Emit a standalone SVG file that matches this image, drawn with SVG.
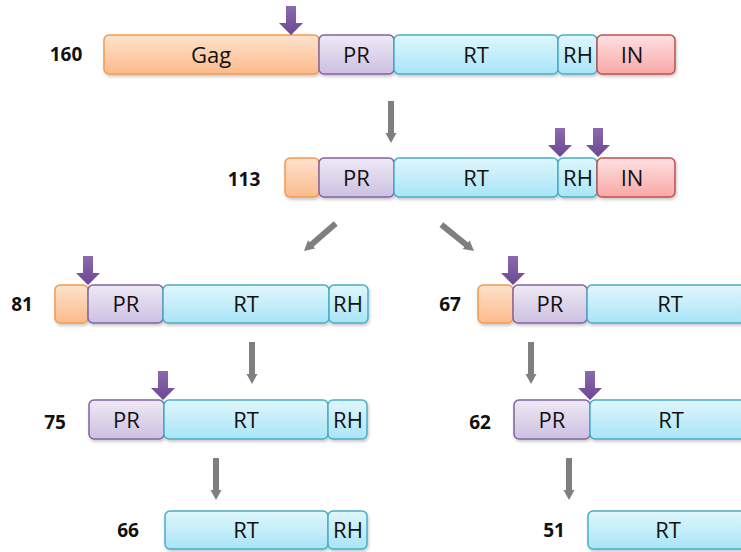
<svg xmlns="http://www.w3.org/2000/svg" xmlns:xlink="http://www.w3.org/1999/xlink" width="741" height="552" viewBox="0 0 741 552">
<defs>
<linearGradient id="gOr" x1="0" y1="0" x2="0" y2="1"><stop offset="0" stop-color="#fde2cd"/><stop offset="1" stop-color="#fbbb8c"/></linearGradient>
<linearGradient id="gPu" x1="0" y1="0" x2="0" y2="1"><stop offset="0" stop-color="#eee9f6"/><stop offset="1" stop-color="#cdc0e1"/></linearGradient>
<linearGradient id="gBl" x1="0" y1="0" x2="0" y2="1"><stop offset="0" stop-color="#e0f6fc"/><stop offset="1" stop-color="#a8e5f7"/></linearGradient>
<linearGradient id="gRe" x1="0" y1="0" x2="0" y2="1"><stop offset="0" stop-color="#fee1e1"/><stop offset="1" stop-color="#f9a7a7"/></linearGradient>
<linearGradient id="gArr" x1="0" y1="0" x2="0" y2="1"><stop offset="0" stop-color="#8c6aaf"/><stop offset="1" stop-color="#6a4792"/></linearGradient>
<filter id="sh" x="-10%" y="-20%" width="120%" height="150%"><feDropShadow dx="1" dy="2" stdDeviation="1.5" flood-color="#000" flood-opacity="0.22"/></filter>
<path id="cut" d="M-5,-29 H5 V-12 H12 L0,0 L-12,-12 H-5 Z" fill="url(#gArr)"/>
<path id="step" d="M-3,-42 H3 V-10 H5.5 L0,0 L-5.5,-10 H-3 Z" fill="#7f7f7f"/>
<style>
.b{stroke-width:1.5}
.gag{fill:url(#gOr);stroke:#f49a4f}
.pr{fill:url(#gPu);stroke:#8064a2}
.rt{fill:url(#gBl);stroke:#4bacc6}
.in{fill:url(#gRe);stroke:#c0504d}
.t{font-family:"Open Sans","Liberation Sans",sans-serif;font-size:22px;fill:#111;text-anchor:middle}
.l{font-family:"Open Sans","Liberation Sans",sans-serif;font-size:19px;font-weight:bold;fill:#111;text-anchor:middle}
</style>
</defs>
<rect width="741" height="552" fill="#fff"/>

<g id="p160">
<g filter="url(#sh)">
<rect class="b gag" x="104" y="35" width="215" height="39" rx="5"/>
<rect class="b pr" x="319" y="35" width="75" height="39" rx="5"/>
<rect class="b rt" x="394" y="35" width="164" height="39" rx="5"/>
<rect class="b rt" x="558" y="35" width="39" height="39" rx="5"/>
<rect class="b in" x="597" y="35" width="78" height="39" rx="5"/>
</g>
<text class="l" x="66" y="61">160</text>
<text class="t" x="211" y="62.5">Gag</text>
<text class="t" x="356.5" y="62.5">PR</text>
<text class="t" x="476" y="62.5">RT</text>
<text class="t" x="578" y="62.5">RH</text>
<text class="t" x="632" y="62.5">IN</text>
</g>

<g id="p113">
<g filter="url(#sh)">
<rect class="b gag" x="285" y="158" width="34" height="39" rx="5"/>
<rect class="b pr" x="319" y="158" width="75" height="39" rx="5"/>
<rect class="b rt" x="394" y="158" width="164" height="39" rx="5"/>
<rect class="b rt" x="558" y="158" width="39" height="39" rx="5"/>
<rect class="b in" x="597" y="158" width="78" height="39" rx="5"/>
</g>
<text class="l" x="244" y="186">113</text>
<text class="t" x="356.5" y="185.5">PR</text>
<text class="t" x="476" y="185.5">RT</text>
<text class="t" x="578" y="185.5">RH</text>
<text class="t" x="632" y="185.5">IN</text>
</g>

<g id="p81">
<g filter="url(#sh)">
<rect class="b gag" x="55" y="285" width="33" height="38" rx="5"/>
<rect class="b pr" x="88" y="285" width="75" height="38" rx="5"/>
<rect class="b rt" x="163" y="285" width="166" height="38" rx="5"/>
<rect class="b rt" x="329" y="285" width="39" height="38" rx="5"/>
</g>
<text class="l" x="22" y="311">81</text>
<text class="t" x="126" y="312">PR</text>
<text class="t" x="246" y="312">RT</text>
<text class="t" x="348" y="312">RH</text>
</g>

<g id="p67">
<g filter="url(#sh)">
<rect class="b gag" x="478" y="285" width="35" height="38" rx="5"/>
<rect class="b pr" x="513" y="285" width="74" height="38" rx="5"/>
<rect class="b rt" x="587" y="285" width="166" height="38" rx="5"/>
</g>
<text class="l" x="450" y="311">67</text>
<text class="t" x="550" y="312">PR</text>
<text class="t" x="670" y="312">RT</text>
</g>

<g id="p75">
<g filter="url(#sh)">
<rect class="b pr" x="89" y="400" width="75" height="39" rx="5"/>
<rect class="b rt" x="164" y="400" width="164" height="39" rx="5"/>
<rect class="b rt" x="328" y="400" width="39" height="39" rx="5"/>
</g>
<text class="l" x="55" y="429">75</text>
<text class="t" x="126.5" y="427.5">PR</text>
<text class="t" x="246" y="427.5">RT</text>
<text class="t" x="348" y="427.5">RH</text>
</g>

<g id="p62">
<g filter="url(#sh)">
<rect class="b pr" x="514" y="400" width="76" height="39" rx="5"/>
<rect class="b rt" x="590" y="400" width="165" height="39" rx="5"/>
</g>
<text class="l" x="480" y="429">62</text>
<text class="t" x="552" y="427.5">PR</text>
<text class="t" x="671" y="427.5">RT</text>
</g>

<g id="p66">
<g filter="url(#sh)">
<rect class="b rt" x="165" y="511" width="163" height="38" rx="5"/>
<rect class="b rt" x="328" y="511" width="39" height="38" rx="5"/>
</g>
<text class="l" x="128" y="537">66</text>
<text class="t" x="246" y="538">RT</text>
<text class="t" x="348" y="538">RH</text>
</g>

<g id="p51">
<g filter="url(#sh)">
<rect class="b rt" x="588" y="511" width="165" height="38" rx="5"/>
</g>
<text class="l" x="554" y="537">51</text>
<text class="t" x="668" y="538">RT</text>
</g>

<g id="cleavage-sites">
<use xlink:href="#cut" transform="translate(291,35)"/>
<use xlink:href="#cut" transform="translate(560,157)"/>
<use xlink:href="#cut" transform="translate(598,157)"/>
<use xlink:href="#cut" transform="translate(88,285)"/>
<use xlink:href="#cut" transform="translate(513,285)"/>
<use xlink:href="#cut" transform="translate(163,400)"/>
<use xlink:href="#cut" transform="translate(590,400)"/>
</g>

<g id="connectors">
<use xlink:href="#step" transform="translate(391,143)"/>
<use xlink:href="#step" transform="translate(304,251) rotate(49)"/>
<use xlink:href="#step" transform="translate(474,251) rotate(-51)"/>
<use xlink:href="#step" transform="translate(252,384)"/>
<use xlink:href="#step" transform="translate(531,384)"/>
<use xlink:href="#step" transform="translate(216,500)"/>
<use xlink:href="#step" transform="translate(569,500)"/>
</g>
</svg>
